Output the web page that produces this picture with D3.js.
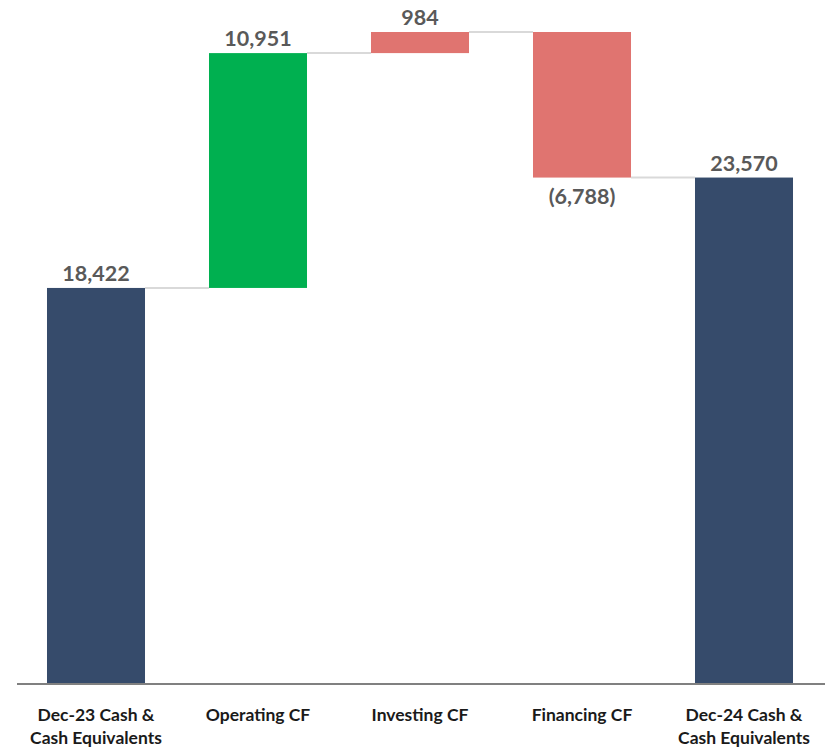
<!DOCTYPE html>
<html><head><meta charset="utf-8">
<script src="https://cdn.jsdelivr.net/npm/d3@7"></script>
<style>body{margin:0;background:#fff;}svg{display:block;font-family:Lato,"Open Sans",sans-serif;}</style>
</head><body><svg id="c" width="828" height="748"></svg>
<script>
const categories = [["Dec-23 Cash &","Cash Equivalents"],["Operating CF"],["Investing CF"],["Financing CF"],["Dec-24 Cash &","Cash Equivalents"]];
const values = [18422, 10951, 984, -6788, 23570];
const kinds = ["total","up","down","down","total"];
const valueLabels = ["18,422","10,951","984","(6,788)","23,570"];
const colors = {total:"#364b6b", up:"#00b050", down:"#e07470"};

const svg = d3.select("#c");
const keys = categories.map((c,i)=>i);
const x = d3.scaleBand().domain(keys).range([15,825]).paddingInner(0.395).paddingOuter(0.1975);
const y = d3.scaleLinear().domain([0, 30357]).range([683, 32]);

let run = 0;
const bars = values.map((v,i)=>{
  let lo, hi, end;
  if (kinds[i]==="total"){ lo=0; hi=v; end=v; }
  else { const s=run; end=run+(i===2?Math.abs(v):v); lo=Math.min(s,end); hi=Math.max(s,end); }
  run = end;
  return {i, lo, hi, end, v};
});

// connectors
for (let i=0;i<bars.length-1;i++){
  const yy = y(bars[i].end);
  svg.append("line").attr("x1", x(i)+x.bandwidth()).attr("x2", x(i+1))
    .attr("y1", yy).attr("y2", yy).attr("stroke","#d9d9d9").attr("stroke-width",2);
}

svg.selectAll("rect.bar").data(bars).join("rect").attr("class","bar")
  .attr("x", d=>x(d.i)).attr("width", x.bandwidth())
  .attr("y", d=>y(d.hi)).attr("height", d=>y(d.lo)-y(d.hi))
  .attr("fill", d=>colors[kinds[d.i]]);

// axis line
svg.append("line").attr("x1",17).attr("x2",825).attr("y1",y(0)+1).attr("y2",y(0)+1)
  .attr("stroke","#808080").attr("stroke-width",2);

// value labels
svg.selectAll("text.val").data(bars).join("text").attr("class","val")
  .attr("x", d=>x(d.i)+x.bandwidth()/2)
  .attr("y", d=> d.v<0 ? y(d.lo)+26 : y(d.hi)-7)
  .attr("text-anchor","middle").attr("font-size",21.5).attr("font-weight","bold")
  .attr("fill","#595959").text((d,i)=>valueLabels[i]);

// category labels
categories.forEach((lines,i)=>{
  const t = svg.append("text").attr("x", x(i)+x.bandwidth()/2).attr("y", 721)
    .attr("text-anchor","middle").attr("font-size",17.5).attr("font-weight","bold").attr("fill","#1a1a1a");
  lines.forEach((l,j)=>t.append("tspan").attr("x", x(i)+x.bandwidth()/2).attr("dy", j===0?0:23).text(l));
});
</script></body></html>
